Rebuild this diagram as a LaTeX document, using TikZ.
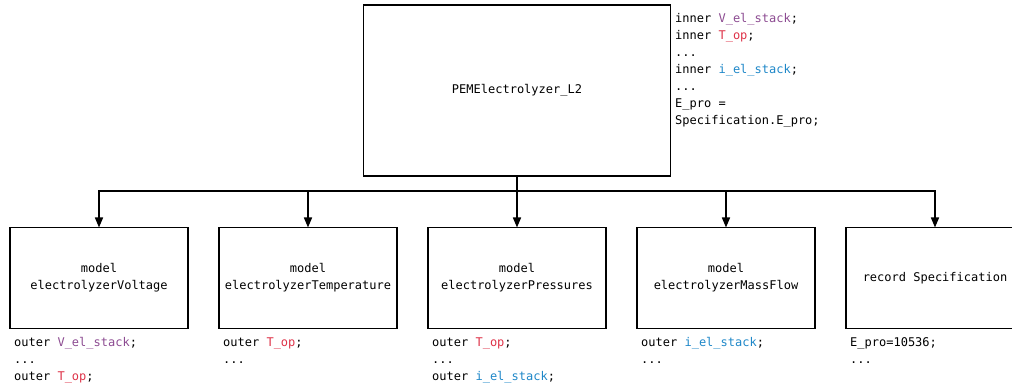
\documentclass[tikz,border=0pt]{standalone}
\usepackage{fontspec}
\setmonofont{DejaVu Sans Mono}
\usepackage{xcolor}
\usetikzlibrary{positioning, arrows.meta}
\definecolor{voltColor}{RGB}{140, 75, 145}
\definecolor{tempColor}{RGB}{222, 50, 72}
\definecolor{currColor}{RGB}{30, 135, 200}

\begin{document}
\begin{tikzpicture}[
  x=1pt, y=-1pt,
  node distance=31pt,
  every node/.style={font=\ttfamily\fontsize{12}{17}\selectfont},
  block/.style={draw, line width=1.6pt, minimum width=178pt, minimum height=101pt,
    align=center, inner sep=0pt, outer sep=0pt},
  note/.style={align=left, anchor=north west, inner sep=0pt},
  link/.style={line width=1.6pt, -{Triangle[length=10pt, width=8pt]}}
]
\useasboundingbox (0,0) rectangle (1012,390);

% parent model
\node[block, minimum width=307pt, minimum height=171pt] (top) at (517,90.5)
  {PEMElectrolyzer\_L2};
\node[note] (topnote) at ([shift={(4.5pt,-8pt)}]top.north east)
  {inner \textcolor{voltColor}{V\_el\_stack};\\
   inner \textcolor{tempColor}{T\_op};\\
   ...\\
   inner \textcolor{currColor}{i\_el\_stack};\\
   ...\\
   E\_pro =\\
   Specification.E\_pro;};

% sub models
\node[block] (volt) at (99,278) {model\\electrolyzerVoltage};
\node[block, right=of volt] (temp) {model\\electrolyzerTemperature};
\node[block, right=of temp] (pres) {model\\electrolyzerPressures};
\node[block, right=of pres] (flow) {model\\electrolyzerMassFlow};
\node[block, right=of flow] (spec) {record Specification};

\node[note] (voltnote) at ([shift={(4pt,-9pt)}]volt.south west)
  {outer \textcolor{voltColor}{V\_el\_stack};\\...\\outer \textcolor{tempColor}{T\_op};};
\node[note] (tempnote) at ([shift={(4pt,-9pt)}]temp.south west)
  {outer \textcolor{tempColor}{T\_op};\\...};
\node[note] (presnote) at ([shift={(4pt,-9pt)}]pres.south west)
  {outer \textcolor{tempColor}{T\_op};\\...\\outer \textcolor{currColor}{i\_el\_stack};};
\node[note] (flownote) at ([shift={(4pt,-9pt)}]flow.south west)
  {outer \textcolor{currColor}{i\_el\_stack};\\...};
\node[note] (specnote) at ([shift={(4pt,-9pt)}]spec.south west)
  {E\_pro=10536;\\...};

% connectors
\coordinate[below=15pt of top.south] (bus);
\foreach \n in {volt, temp, pres, flow, spec}
  \draw[link] (top.south) -- (bus) -| (\n.north);
\end{tikzpicture}
\end{document}
